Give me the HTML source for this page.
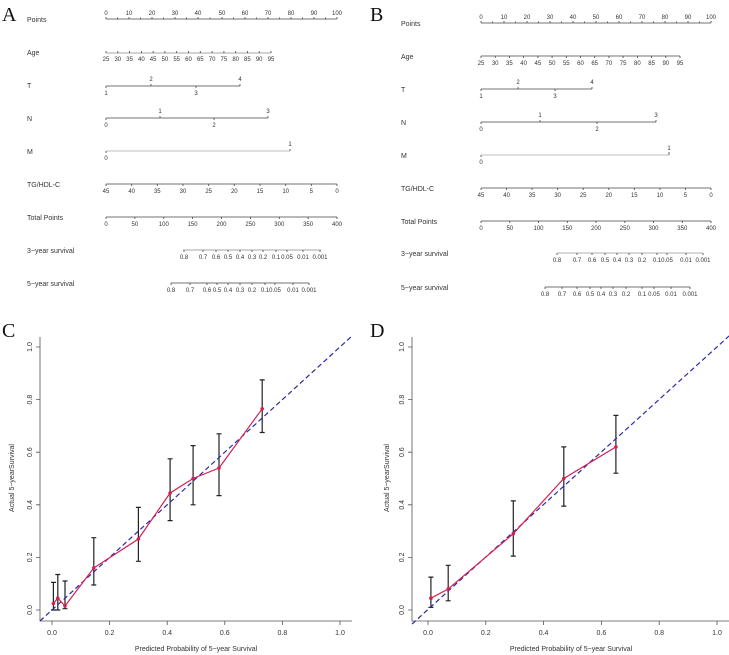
<!DOCTYPE html>
<html><head><meta charset="utf-8"><style>
html,body{margin:0;padding:0;background:#fff}
svg{display:block}
text{font-family:"Liberation Sans",sans-serif;fill:#333}
.n{font-size:6px;text-anchor:middle}
.r{font-size:7px}
.L{font-family:"Liberation Serif",serif;font-size:20px;fill:#111}
.ax{font-size:7px;text-anchor:middle}
</style></head><body>
<svg width="729" height="655" viewBox="0 0 729 655" xmlns="http://www.w3.org/2000/svg">
<text class="L" x="2" y="21">A</text>
<text class="L" x="370" y="21">B</text>
<text class="L" x="2" y="337">C</text>
<text class="L" x="370" y="337">D</text>

<g stroke="#444" stroke-width="0.8" fill="none">
<line x1="106" y1="19" x2="337" y2="19"/>
<path d="M106 19v-2M117.5 19v-1.5M129 19v-2M140.5 19v-1.5M152 19v-2M163.5 19v-1.5M175 19v-2M186.5 19v-1.5M198 19v-2M210 19v-1.5M222 19v-2M233.5 19v-1.5M245 19v-2M256.5 19v-1.5M268 19v-2M279.5 19v-1.5M291 19v-2M302.5 19v-1.5M314 19v-2M325.5 19v-1.5M337 19v-2"/>
<line x1="106" y1="53" x2="271" y2="53" stroke="#888"/>
<path d="M106 53v-2M117.8 53v-2M129.6 53v-2M141.4 53v-2M153.1 53v-2M164.9 53v-2M176.7 53v-2M188.5 53v-2M200.3 53v-2M212.1 53v-2M223.9 53v-2M235.7 53v-2M247.4 53v-2M259.2 53v-2M271 53v-2"/>
<line x1="106" y1="86" x2="240" y2="86"/>
<path d="M106 86v2M151 86v-2M196 86v2M240 86v-2"/>
<line x1="106" y1="118" x2="268" y2="118"/>
<path d="M106 118v2M160 118v-2M214 118v2M268 118v-2"/>
<line x1="106" y1="151" x2="290" y2="151" stroke="#aaa"/>
<path d="M106 151v2M290 151v-2"/>
<line x1="106" y1="184" x2="337" y2="184"/>
<path d="M106 184v2M131.7 184v2M157.3 184v2M183 184v2M208.7 184v2M234.3 184v2M260 184v2M285.7 184v2M311.3 184v2M337 184v2"/>
<line x1="106" y1="217" x2="337" y2="217"/>
<path d="M106 217v2M134.9 217v2M163.8 217v2M192.6 217v2M221.5 217v2M250.4 217v2M279.3 217v2M308.1 217v2M337 217v2"/>
<line x1="183" y1="250" x2="321" y2="250" stroke="#888"/>
<path d="M184 250v2M203 250v2M216 250v2M228 250v2M240 250v2M252 250v2M263 250v2M276 250v2M287 250v2M303 250v2M320 250v2"/>
<line x1="171" y1="283" x2="309" y2="283"/>
<path d="M171 283v2M190 283v2M207 283v2M217 283v2M228 283v2M240 283v2M252 283v2M265 283v2M275 283v2M293 283v2M309 283v2"/>
</g>
<g>
<text class="r" x="27" y="22">Points</text>
<text class="r" x="27" y="55">Age</text>
<text class="r" x="27" y="88">T</text>
<text class="r" x="27" y="121">N</text>
<text class="r" x="27" y="154">M</text>
<text class="r" x="27" y="187">TG/HDL-C</text>
<text class="r" x="27" y="220">Total Points</text>
<text class="r" x="27" y="253">3−year survival</text>
<text class="r" x="27" y="286">5−year survival</text>
</g>
<g class="n">
<text x="106" y="15" class="n">0</text><text x="129" y="15" class="n">10</text><text x="152" y="15" class="n">20</text><text x="175" y="15" class="n">30</text><text x="198" y="15" class="n">40</text><text x="222" y="15" class="n">50</text><text x="245" y="15" class="n">60</text><text x="268" y="15" class="n">70</text><text x="291" y="15" class="n">80</text><text x="314" y="15" class="n">90</text><text x="337" y="15" class="n">100</text>
<text x="106" y="61" class="n">25</text><text x="117.8" y="61" class="n">30</text><text x="129.6" y="61" class="n">35</text><text x="141.4" y="61" class="n">40</text><text x="153.1" y="61" class="n">45</text><text x="164.9" y="61" class="n">50</text><text x="176.7" y="61" class="n">55</text><text x="188.5" y="61" class="n">60</text><text x="200.3" y="61" class="n">65</text><text x="212.1" y="61" class="n">70</text><text x="223.9" y="61" class="n">75</text><text x="235.7" y="61" class="n">80</text><text x="247.4" y="61" class="n">85</text><text x="259.2" y="61" class="n">90</text><text x="271" y="61" class="n">95</text>
<text x="151" y="81" class="n">2</text><text x="240" y="81" class="n">4</text><text x="106" y="95" class="n">1</text><text x="196" y="95" class="n">3</text>
<text x="160" y="113" class="n">1</text><text x="268" y="113" class="n">3</text><text x="106" y="127" class="n">0</text><text x="214" y="127" class="n">2</text>
<text x="290" y="146" class="n">1</text><text x="106" y="160" class="n">0</text>
<text x="106" y="193" class="n">45</text><text x="131.7" y="193" class="n">40</text><text x="157.3" y="193" class="n">35</text><text x="183" y="193" class="n">30</text><text x="208.7" y="193" class="n">25</text><text x="234.3" y="193" class="n">20</text><text x="260" y="193" class="n">15</text><text x="285.7" y="193" class="n">10</text><text x="311.3" y="193" class="n">5</text><text x="337" y="193" class="n">0</text>
<text x="106" y="226" class="n">0</text><text x="134.9" y="226" class="n">50</text><text x="163.8" y="226" class="n">100</text><text x="192.6" y="226" class="n">150</text><text x="221.5" y="226" class="n">200</text><text x="250.4" y="226" class="n">250</text><text x="279.3" y="226" class="n">300</text><text x="308.1" y="226" class="n">350</text><text x="337" y="226" class="n">400</text>
<text x="184" y="259" class="n">0.8</text><text x="203" y="259" class="n">0.7</text><text x="216" y="259" class="n">0.6</text><text x="228" y="259" class="n">0.5</text><text x="240" y="259" class="n">0.4</text><text x="252" y="259" class="n">0.3</text><text x="263" y="259" class="n">0.2</text><text x="276" y="259" class="n">0.1</text><text x="287" y="259" class="n">0.05</text><text x="303" y="259" class="n">0.01</text><text x="320" y="259" class="n">0.001</text>
<text x="171" y="292" class="n">0.8</text><text x="190" y="292" class="n">0.7</text><text x="207" y="292" class="n">0.6</text><text x="217" y="292" class="n">0.5</text><text x="228" y="292" class="n">0.4</text><text x="240" y="292" class="n">0.3</text><text x="252" y="292" class="n">0.2</text><text x="265" y="292" class="n">0.1</text><text x="275" y="292" class="n">0.05</text><text x="293" y="292" class="n">0.01</text><text x="309" y="292" class="n">0.001</text>
</g>

<g stroke="#444" stroke-width="0.8" fill="none">
<line x1="481" y1="23" x2="711" y2="23"/>
<path d="M481 23v-2M492.5 23v-1.5M504 23v-2M515.5 23v-1.5M527 23v-2M538.5 23v-1.5M550 23v-2M561.5 23v-1.5M573 23v-2M584.5 23v-1.5M596 23v-2M607.5 23v-1.5M619 23v-2M630.5 23v-1.5M642 23v-2M653.5 23v-1.5M665 23v-2M676.5 23v-1.5M688 23v-2M699.5 23v-1.5M711 23v-2"/>
<line x1="481" y1="56" x2="680" y2="56"/>
<path d="M481 56v2M495.2 56v2M509.4 56v2M523.6 56v2M537.9 56v2M552.1 56v2M566.3 56v2M580.5 56v2M594.7 56v2M608.9 56v2M623.1 56v2M637.4 56v2M651.6 56v2M665.8 56v2M680 56v2"/>
<line x1="481" y1="89" x2="592" y2="89"/>
<path d="M481 89v2M518 89v-2M555 89v2M592 89v-2"/>
<line x1="481" y1="122" x2="656" y2="122"/>
<path d="M481 122v2M540 122v-2M597 122v2M656 122v-2"/>
<line x1="481" y1="155" x2="669" y2="155" stroke="#aaa"/>
<path d="M481 155v2M669 155v-3"/>
<line x1="481" y1="188" x2="711" y2="188"/>
<path d="M481 188v2M506.6 188v2M532.1 188v2M557.7 188v2M583.2 188v2M608.8 188v2M634.3 188v2M659.9 188v2M685.4 188v2M711 188v2"/>
<line x1="481" y1="221" x2="711" y2="221"/>
<path d="M481 221v2M509.8 221v2M538.5 221v2M567.3 221v2M596 221v2M624.8 221v2M653.5 221v2M682.3 221v2M711 221v2"/>
<line x1="557" y1="253" x2="703" y2="253" stroke="#999"/>
<path d="M557 253v2M577 253v2M592 253v2M605 253v2M617 253v2M629 253v2M642 253v2M657 253v2M667 253v2M686 253v2M703 253v2"/>
<line x1="545" y1="287" x2="690" y2="287"/>
<path d="M545 287v2M562 287v2M577 287v2M590 287v2M601 287v2M613 287v2M626 287v2M642 287v2M654 287v2M671 287v2M690 287v2"/>
</g>
<g>
<text class="r" x="401" y="26">Points</text>
<text class="r" x="401" y="59">Age</text>
<text class="r" x="401" y="92">T</text>
<text class="r" x="401" y="125">N</text>
<text class="r" x="401" y="158">M</text>
<text class="r" x="401" y="191">TG/HDL-C</text>
<text class="r" x="401" y="224">Total Points</text>
<text class="r" x="401" y="256">3−year survival</text>
<text class="r" x="401" y="290">5−year survival</text>
</g>
<g>
<text x="481" y="19" class="n">0</text><text x="504" y="19" class="n">10</text><text x="527" y="19" class="n">20</text><text x="550" y="19" class="n">30</text><text x="573" y="19" class="n">40</text><text x="596" y="19" class="n">50</text><text x="619" y="19" class="n">60</text><text x="642" y="19" class="n">70</text><text x="665" y="19" class="n">80</text><text x="688" y="19" class="n">90</text><text x="711" y="19" class="n">100</text>
<text x="481" y="65" class="n">25</text><text x="495.2" y="65" class="n">30</text><text x="509.4" y="65" class="n">35</text><text x="523.6" y="65" class="n">40</text><text x="537.9" y="65" class="n">45</text><text x="552.1" y="65" class="n">50</text><text x="566.3" y="65" class="n">55</text><text x="580.5" y="65" class="n">60</text><text x="594.7" y="65" class="n">65</text><text x="608.9" y="65" class="n">70</text><text x="623.1" y="65" class="n">75</text><text x="637.4" y="65" class="n">80</text><text x="651.6" y="65" class="n">85</text><text x="665.8" y="65" class="n">90</text><text x="680" y="65" class="n">95</text>
<text x="518" y="84" class="n">2</text><text x="592" y="84" class="n">4</text><text x="481" y="98" class="n">1</text><text x="555" y="98" class="n">3</text>
<text x="540" y="117" class="n">1</text><text x="656" y="117" class="n">3</text><text x="481" y="131" class="n">0</text><text x="597" y="131" class="n">2</text>
<text x="669" y="150" class="n">1</text><text x="481" y="164" class="n">0</text>
<text x="481" y="197" class="n">45</text><text x="506.6" y="197" class="n">40</text><text x="532.1" y="197" class="n">35</text><text x="557.7" y="197" class="n">30</text><text x="583.2" y="197" class="n">25</text><text x="608.8" y="197" class="n">20</text><text x="634.3" y="197" class="n">15</text><text x="659.9" y="197" class="n">10</text><text x="685.4" y="197" class="n">5</text><text x="711" y="197" class="n">0</text>
<text x="481" y="230" class="n">0</text><text x="509.8" y="230" class="n">50</text><text x="538.5" y="230" class="n">100</text><text x="567.3" y="230" class="n">150</text><text x="596" y="230" class="n">200</text><text x="624.8" y="230" class="n">250</text><text x="653.5" y="230" class="n">300</text><text x="682.3" y="230" class="n">350</text><text x="711" y="230" class="n">400</text>
<text x="557" y="262" class="n">0.8</text><text x="577" y="262" class="n">0.7</text><text x="592" y="262" class="n">0.6</text><text x="605" y="262" class="n">0.5</text><text x="617" y="262" class="n">0.4</text><text x="629" y="262" class="n">0.3</text><text x="642" y="262" class="n">0.2</text><text x="657" y="262" class="n">0.1</text><text x="667" y="262" class="n">0.05</text><text x="686" y="262" class="n">0.01</text><text x="703" y="262" class="n">0.001</text>
<text x="545" y="296" class="n">0.8</text><text x="562" y="296" class="n">0.7</text><text x="577" y="296" class="n">0.6</text><text x="590" y="296" class="n">0.5</text><text x="601" y="296" class="n">0.4</text><text x="613" y="296" class="n">0.3</text><text x="626" y="296" class="n">0.2</text><text x="642" y="296" class="n">0.1</text><text x="654" y="296" class="n">0.05</text><text x="671" y="296" class="n">0.01</text><text x="690" y="296" class="n">0.001</text>
</g>

<g stroke="#555" stroke-width="0.8" fill="none">
<path d="M40 337V621H352"/>
<path d="M40 610h-4M40 557.4h-4M40 504.8h-4M40 452.2h-4M40 399.6h-4M40 347h-4"/>
<path d="M52 621v4M109.6 621v4M167.2 621v4M224.8 621v4M282.4 621v4M340 621v4"/>
</g>
<g class="ax">
<text transform="translate(32,610) rotate(-90)">0.0</text>
<text transform="translate(32,557.4) rotate(-90)">0.2</text>
<text transform="translate(32,504.8) rotate(-90)">0.4</text>
<text transform="translate(32,452.2) rotate(-90)">0.6</text>
<text transform="translate(32,399.6) rotate(-90)">0.8</text>
<text transform="translate(32,347) rotate(-90)">1.0</text>
<text x="52" y="635">0.0</text><text x="109.6" y="635">0.2</text><text x="167.2" y="635">0.4</text><text x="224.8" y="635">0.6</text><text x="282.4" y="635">0.8</text><text x="340" y="635">1.0</text>
<text x="196" y="651">Predicted Probability of 5−year Survival</text>
<text transform="translate(14,478) rotate(-90)">Actual 5−yearSurvival</text>
</g>
<g stroke="#222" stroke-width="1.2">
<path d="M53.4 610V582.4M51 582.4h5M51 610h5"/>
<path d="M57.8 610V574.5M55.3 574.5h5M55.3 610h5"/>
<path d="M65 608.7V581M62.5 581h5M62.5 608.7h5"/>
<path d="M93.8 585V537.7M91.3 537.7h5M91.3 585h5"/>
<path d="M138.4 561.3V507.4M135.9 507.4h5M135.9 561.3h5"/>
<path d="M170.1 520.6V458.8M167.6 458.8h5M167.6 520.6h5"/>
<path d="M193.1 504.8V445.6M190.6 445.6h5M190.6 504.8h5"/>
<path d="M219 495.6V433.8M216.5 433.8h5M216.5 495.6h5"/>
<path d="M262.2 432.5V379.9M259.7 379.9h5M259.7 432.5h5"/>
</g>
<line x1="40" y1="621" x2="352" y2="336" stroke="#2a2aa8" stroke-width="1.2" stroke-dasharray="5,3"/>
<polyline points="53.4,603.4 57.8,598.2 65,606 93.8,567.9 138.4,539 170.1,493 193.1,478.5 219,468 262.2,408.8" fill="none" stroke="#d42050" stroke-width="1.2"/>
<g fill="#d42050">
<circle cx="53.4" cy="603.4" r="1.8"/><circle cx="57.8" cy="598.2" r="1.8"/><circle cx="65" cy="606" r="1.8"/><circle cx="93.8" cy="567.9" r="1.8"/><circle cx="138.4" cy="539" r="1.8"/><circle cx="170.1" cy="493" r="1.8"/><circle cx="193.1" cy="478.5" r="1.8"/><circle cx="219" cy="468" r="1.8"/><circle cx="262.2" cy="408.8" r="1.8"/>
</g>

<g stroke="#555" stroke-width="0.8" fill="none">
<path d="M412 337V621H729"/>
<path d="M412 610h-4M412 557.4h-4M412 504.8h-4M412 452.2h-4M412 399.6h-4M412 347h-4"/>
<path d="M428 621v4M485.8 621v4M543.6 621v4M601.4 621v4M659.2 621v4M717 621v4"/>
</g>
<g class="ax">
<text transform="translate(404,610) rotate(-90)">0.0</text>
<text transform="translate(404,557.4) rotate(-90)">0.2</text>
<text transform="translate(404,504.8) rotate(-90)">0.4</text>
<text transform="translate(404,452.2) rotate(-90)">0.6</text>
<text transform="translate(404,399.6) rotate(-90)">0.8</text>
<text transform="translate(404,347) rotate(-90)">1.0</text>
<text x="428" y="635">0.0</text><text x="485.8" y="635">0.2</text><text x="543.6" y="635">0.4</text><text x="601.4" y="635">0.6</text><text x="659.2" y="635">0.8</text><text x="717" y="635">1.0</text>
<text x="571" y="651">Predicted Probability of 5−year Survival</text>
<text transform="translate(389,478) rotate(-90)">Actual 5−yearSurvival</text>
</g>
<g stroke="#222" stroke-width="1.2">
<path d="M430.9 607.4V577.1M428.4 577.1h5M428.4 607.4h5"/>
<path d="M448.2 600.8V565.3M445.7 565.3h5M445.7 600.8h5"/>
<path d="M513.3 556.1V500.9M510.8 500.9h5M510.8 556.1h5"/>
<path d="M563.8 506.1V446.9M561.3 446.9h5M561.3 506.1h5"/>
<path d="M615.9 473.2V415.4M613.4 415.4h5M613.4 473.2h5"/>
</g>
<line x1="412" y1="624" x2="729" y2="336" stroke="#2a2aa8" stroke-width="1.2" stroke-dasharray="5,3"/>
<polyline points="430.9,598.2 448.2,589 513.3,533.7 563.8,478.5 615.9,446.9" fill="none" stroke="#d42050" stroke-width="1.2"/>
<g fill="#d42050">
<circle cx="430.9" cy="598.2" r="1.8"/><circle cx="448.2" cy="589" r="1.8"/><circle cx="513.3" cy="533.7" r="1.8"/><circle cx="563.8" cy="478.5" r="1.8"/><circle cx="615.9" cy="446.9" r="1.8"/>
</g>
</svg>
</body></html>
